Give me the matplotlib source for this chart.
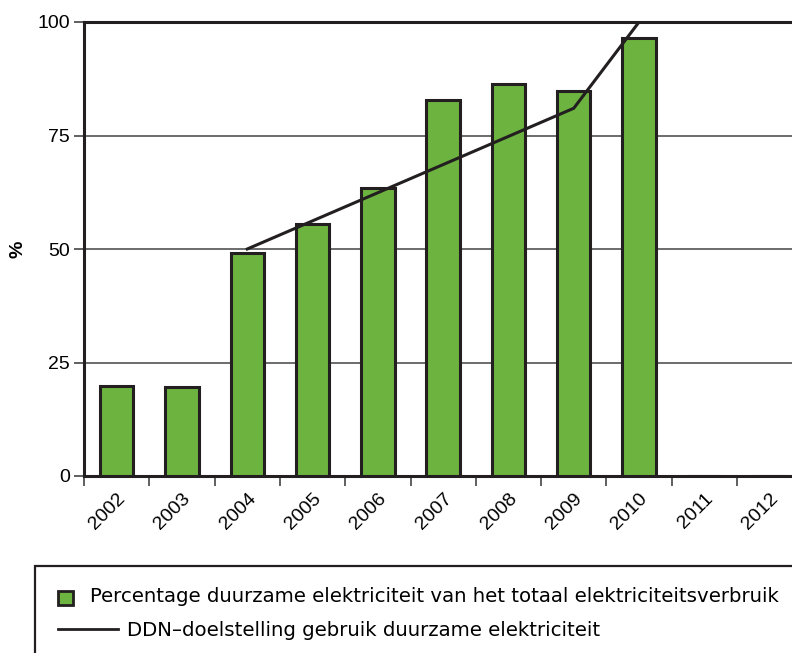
import matplotlib.pyplot as plt
from matplotlib.patches import Rectangle
from matplotlib.lines import Line2D
from matplotlib.transforms import ScaledTranslation
import numpy as np

# jaren en waarden
years = ['2002', '2003', '2004', '2005', '2006', '2007', '2008', '2009', '2010', '2011', '2012']
share = [19.8, 19.6, 49.1, 55.5, 63.4, 82.8, 86.3, 84.8, 96.5, None, None]
target_years = ['2004', '2005', '2006', '2007', '2008', '2009', '2010']
target = [50.0, 56.2, 62.4, 68.6, 74.8, 81.0, 100.0]

label_bar = 'Percentage duurzame elektriciteit van het totaal elektriciteitsverbruik'
label_line = 'DDN\u2013doelstelling gebruik duurzame elektriciteit'

green = '#6db33f'
dark = '#231f20'

plt.rcParams['font.family'] = ['Liberation Sans', 'DejaVu Sans']

fig = plt.figure(figsize=(7.92, 6.53), dpi=100)
ax = fig.add_axes([84 / 792, 1 - 476 / 653, (792 - 84) / 792, (476 - 22) / 653])

x = np.arange(len(years))
vals = [v if v is not None else 0 for v in share]
ax.bar(x, vals, width=0.51, color=green, edgecolor=dark, linewidth=2.2, zorder=3)

tx = [years.index(y) for y in target_years]
ax.plot(tx, target, color=dark, linewidth=2.2, zorder=4)

ax.set_xlim(-0.5, -0.5 + (792 - 84) / 65.3)
ax.set_ylim(0, 100)

# rasterlijnen
ax.set_yticks([0, 25, 50, 75, 100])
ax.yaxis.grid(True, color='#444444', linewidth=1.1, zorder=0)
ax.set_axisbelow(True)

# x-as: streepjes op de grenzen, labels in het midden
ax.set_xticks(np.arange(-0.5, 10.0, 1.0))
ax.set_xticklabels([])
ax.set_xticks(x, minor=True)
ax.set_xticklabels(years, minor=True, rotation=45, ha='right', va='top', fontsize=14,
                   rotation_mode='anchor')
shift = ScaledTranslation(7 / 100, 0, fig.dpi_scale_trans)
for lbl in ax.get_xticklabels(minor=True):
    lbl.set_transform(lbl.get_transform() + shift)
ax.tick_params(axis='x', which='minor', length=0, pad=10)
ax.tick_params(axis='x', which='major', length=7, width=1.2, color='#444444', direction='out')
ax.tick_params(axis='y', length=7, width=1.2, color='#444444', labelsize=14, pad=3)

for s in ['left', 'bottom', 'top']:
    ax.spines[s].set_linewidth(2.2)
    ax.spines[s].set_color(dark)
ax.spines['right'].set_visible(False)

fig.text(18 / 792, 1 - 249 / 653, '%', rotation=90, fontsize=14, fontweight='bold',
         ha='center', va='center')

# legenda handmatig
fig.patches.append(Rectangle((35 / 792, -0.05), 0.99, 1 - 566 / 653 + 0.05,
                             transform=fig.transFigure, facecolor='none',
                             edgecolor=dark, linewidth=1.6))
fig.patches.append(Rectangle((58 / 792, 1 - 605 / 653), 15 / 792, 14 / 653,
                             transform=fig.transFigure, facecolor=green,
                             edgecolor=dark, linewidth=2))
fig.lines.append(Line2D([58 / 792, 118 / 792], [1 - 629 / 653] * 2,
                        transform=fig.transFigure, color=dark, linewidth=2))
fig.text(90 / 792, 1 - 597 / 653, label_bar, fontsize=14.2, va='center', ha='left',
         family='DejaVu Sans')
fig.text(127 / 792, 1 - 630 / 653, label_line, fontsize=14.2, va='center', ha='left',
         family='DejaVu Sans')

fig.savefig('out.png', dpi=100)
